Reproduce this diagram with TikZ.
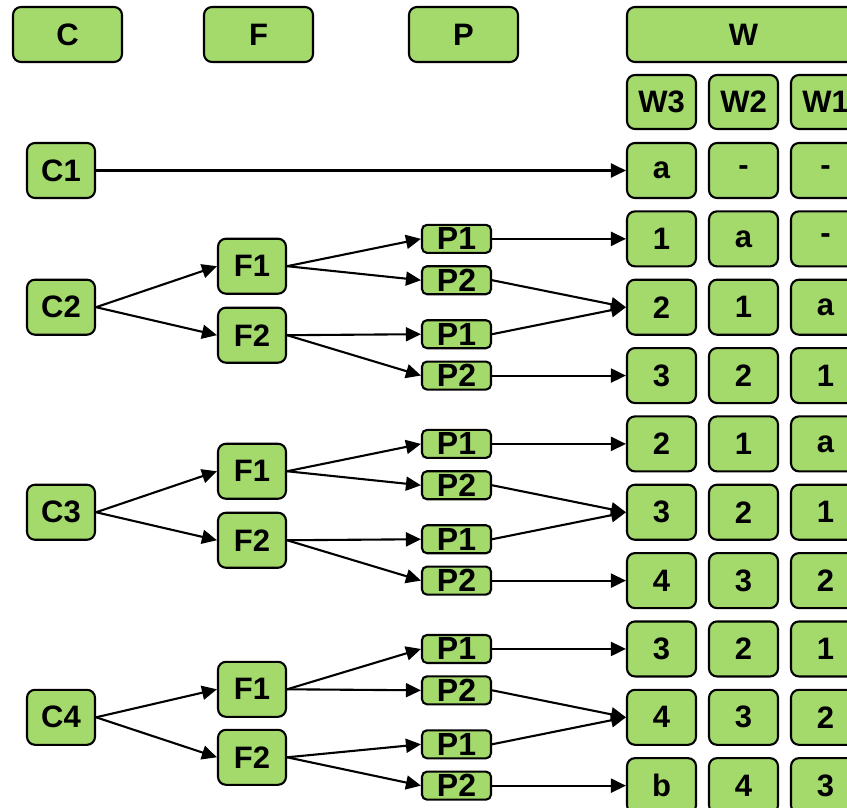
\documentclass[tikz,border=0pt]{standalone}
\usepackage{fontspec}
\setmainfont{Liberation Sans}
\usetikzlibrary{arrows.meta}
\definecolor{boxgreen}{HTML}{A4D96C}
\begin{document}
\begin{tikzpicture}[x=1pt,y=-1pt,
  box/.style={draw=black,line width=2.1pt,fill=boxgreen,rounded corners=8pt,
    inner sep=0pt,font=\fontsize{31}{31}\selectfont\bfseries},
  hdr/.style={box,minimum width=109pt,minimum height=55pt},
  cbox/.style={box,minimum width=68pt,minimum height=55pt},
  cell/.style={box,minimum width=69pt,minimum height=55pt},
  pbox/.style={box,rounded corners=5pt,minimum width=69pt,minimum height=28pt,
    font=\fontsize{32}{32}\selectfont\bfseries},
  link/.style={line width=2.1pt,-{Triangle[length=15pt,width=14pt]}}]
\useasboundingbox (0,0) rectangle (847,808);
\clip (0,0) rectangle (847,808);

% column headers
\node[hdr] (hC) at (67.5,34.5) {C};
\node[hdr] (hF) at (258.5,34.5) {F};
\node[hdr] (hP) at (463.5,34.5) {P};
\node[box,minimum width=233pt,minimum height=55pt] (hW) at (743.5,34.5) {W};
\node[cell,minimum height=54pt] (hW3) at (661.5,102) {W3};
\node[cell,minimum height=54pt] (hW2) at (743.5,102) {W2};
\node[cell,minimum height=54pt] (hW1) at (825.5,102) {W1};

% window cells: row index / W3 / W2 / W1
\foreach \r/\a/\b/\c in {0/a/-/-,1/1/a/-,2/2/1/a,3/3/2/1,4/2/1/a,
                         5/3/2/1,6/4/3/2,7/3/2/1,8/4/3/2,9/b/4/3}{
  \node[cell] (w\r) at (661.5,170.5+68.35*\r) {\a};
  \node[cell] at (743.5,170.5+68.35*\r) {\b};
  \node[cell] at (825.5,170.5+68.35*\r) {\c};
}

% C1 goes straight to the first row
\node[cbox] (C1) at (61,170.5) {C1};
\draw[link] (C1.east) -- (w0.west);

% C2..C4, each with two F and four P boxes
\foreach \n/\r/\fa/\fb in {2/2/-41/28,3/5/-41/28,4/8/-28/40}{
  \pgfmathsetmacro\yc{170.5+68.35*\r}
  \pgfmathtruncatemacro\rp{\r-1}
  \pgfmathtruncatemacro\rn{\r+1}
  \node[cbox] (C\n) at (61,\yc) {C\n};
  \node[cbox] (F\n a) at (252,\yc+\fa) {F1};
  \node[cbox] (F\n b) at (252,\yc+\fb) {F2};
  \node[pbox] (P\n a) at (456.5,\yc-68.35) {P1};
  \node[pbox] (P\n b) at (456.5,\yc-27) {P2};
  \node[pbox] (P\n c) at (456.5,\yc+27) {P1};
  \node[pbox] (P\n d) at (456.5,\yc+68.35) {P2};
  \draw[link] (C\n.east) -- (F\n a.west);
  \draw[link] (C\n.east) -- (F\n b.west);
  \draw[link] (F\n a.east) -- (P\n a.west);
  \draw[link] (F\n a.east) -- (P\n b.west);
  \draw[link] (F\n b.east) -- (P\n c.west);
  \draw[link] (F\n b.east) -- (P\n d.west);
  \draw[link] (P\n a.east) -- (w\rp.west);
  \draw[link] (P\n b.east) -- (w\r.west);
  \draw[link] (P\n c.east) -- (w\r.west);
  \draw[link] (P\n d.east) -- (w\rn.west);
}
\end{tikzpicture}
\end{document}
